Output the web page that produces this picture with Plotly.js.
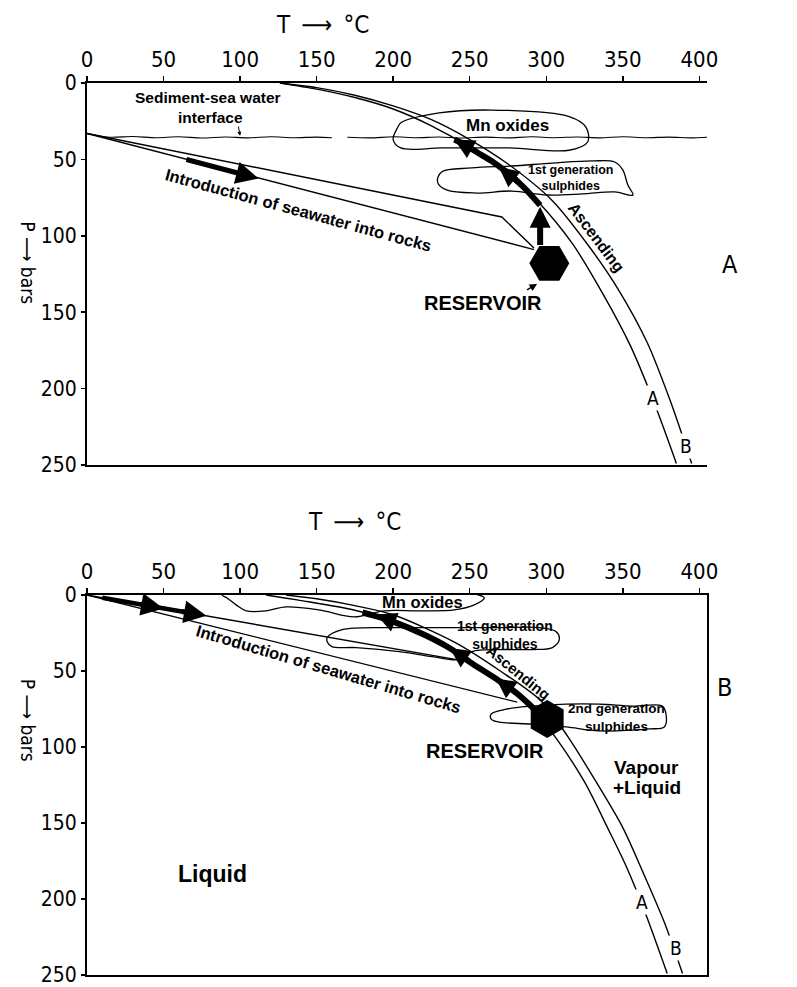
<!DOCTYPE html>
<html><head><meta charset="utf-8">
<script src="https://cdn.plot.ly/plotly-3.0.1.min.js"></script>
<style>html,body{margin:0;padding:0;background:#fff}</style>
</head><body>
<div id="chart" style="width:797px;height:987px"></div>
<script>
// ---------- tick labels ----------
const T_TICKS = [0, 50, 100, 150, 200, 250, 300, 350, 400];
const P_TICKS = [0, 50, 100, 150, 200, 250];

// ---------- panel A (top) ----------
const topCurveA_T = [126, 150, 175, 200, 225, 250, 275, 295, 317, 337, 355, 370, 385];
const topCurveA_P = [0, 4, 9.5, 17, 28, 42, 59, 78, 105, 138, 172, 208, 249];
const topCurveB_T = [126, 150, 175, 200, 225, 250, 275, 304, 328, 347, 366, 381, 395];
const topCurveB_P = [0, 3, 8, 15, 24, 37, 53, 77, 107, 135, 170, 208, 249];
const topInterface_T = [0, 15, 30, 45, 60, 75, 90, 105, 120, 135, 150, 160, 163, 170, 185, 200, 215, 230, 245, 260, 275, 290, 305, 320, 335, 350, 365, 380, 395, 405];
const topInterface_P = [33, 35.5, 35, 35.8, 35.2, 36, 35.3, 35.9, 35.2, 35.8, 35.4, 35.8, null, 35.5, 35.9, 35.2, 35.8, 35.3, 36, 35.4, 35.9, 35.2, 35.8, 35.3, 35.9, 35.2, 35.8, 35.4, 35.9, 35.5];
const topIntroUpper_T = [0, 205, 271, 292];
const topIntroUpper_P = [33, 74.6, 87.7, 108];
const topIntroLower_T = [0, 292];
const topIntroLower_P = [33, 109];
const topBand_T = [296, 285, 275, 265, 255, 247, 240];
const topBand_P = [80, 68, 59, 51.5, 45.5, 40.5, 37];
const topMn_T = [205, 230, 264, 315, 326, 327, 315, 276, 232, 205, 200, 203, 205];
const topMn_P = [26, 19.6, 17.7, 22, 29, 38.6, 44, 42.5, 42.5, 42.5, 37, 29, 26];
const topSulph1_T = [231.6, 251.3, 277.6, 304, 330, 344.7, 350, 353.3, 356.6, 344.7, 323.7, 300.7, 277.6, 254.6, 234.9, 229, 231.6];
const topSulph1_P = [58.2, 55.6, 54.3, 52.4, 51, 51.7, 56.9, 66.8, 73.3, 71.3, 72.6, 73.3, 70.7, 72, 70, 64.8, 58.2];
const topReservoir_T = [302];
const topReservoir_P = [118];

// ---------- panel B (bottom) ----------
const botCurveA_T = [117, 139, 175, 200, 237, 267, 289, 307, 325, 340, 352, 365, 379];
const botCurveA_P = [0, 3.5, 10, 17.5, 35, 55, 72, 95, 123, 153, 178, 210, 249];
const botCurveB_T = [130, 150, 175, 200, 240, 270, 297, 314, 332, 350, 363, 377, 389];
const botCurveB_P = [0, 2.5, 7, 13, 31, 50, 70, 93, 122, 153, 182, 215, 249];
const botIntroUpper_T = [0, 248];
const botIntroUpper_P = [0, 43.7];
const botIntroLower_T = [0, 281];
const botIntroLower_P = [0, 70.5];
const botIntroBand_T = [10, 74];
const botIntroBand_P = [1.8, 13];
const botBand_T = [293, 289, 280, 267, 250, 237, 220, 200, 189, 180];
const botBand_P = [76, 72, 64, 55, 44, 35, 26, 17.5, 14, 11.5];
const botMn_T = [88.2, 256, 259.5, 253, 240, 217, 194, 174.5, 151.6, 130, 117, 104, 97.4, 91.5, 88.2];
const botMn_P = [0, 0, 2, 6.5, 9.8, 10.4, 10.4, 14.4, 9.8, 7.8, 10.4, 10.4, 6.5, 2, 0];
const botSulph1_T = [156.9, 166.7, 203.9, 238.6, 269.3, 295.4, 306.5, 308.5, 304, 290.8, 269.3, 251.6, 243, 225.5, 204, 175.8, 160, 156.9, 156.9];
const botSulph1_P = [28.1, 22.8, 21.5, 21.5, 21.5, 21.5, 24.2, 29.4, 34.6, 35.9, 35.9, 37.2, 42.4, 40.5, 37.2, 34.6, 34, 30.7, 28.1];
const botSulph2_T = [264, 273.9, 290.8, 313, 334.6, 356.2, 375.8, 378.4, 377.1, 367.3, 334.6, 313, 290.8, 269.3, 264, 264];
const botSulph2_P = [78.3, 75.1, 73.1, 71.8, 71.8, 73.1, 73.1, 79.6, 86.8, 88.1, 89.4, 86.8, 84.9, 83.6, 81.6, 78.3];
const botReservoir_T = [300.6];
const botReservoir_P = [81.6];

// ---------- helpers ----------
const BOLD = 'Liberation Sans, Arial, sans-serif';
const NARROW = 'DejaVu Sans Condensed, Liberation Sans Narrow, sans-serif';
function line(T, P, xa, ya, w, smooth) {
  return {type: 'scatter', mode: 'lines', x: T, y: P, xaxis: xa, yaxis: ya,
    line: {color: '#000', width: w, shape: 'spline', smoothing: smooth === undefined ? 0.8 : smooth},
    hoverinfo: 'skip', connectgaps: false};
}
function blob(T, P, xa, ya) { return line(T, P, xa, ya, 1.3, 1); }
function straight(T, P, xa, ya, w) {
  return {type: 'scatter', mode: 'lines', x: T, y: P, xaxis: xa, yaxis: ya, line: {color: '#000', width: w}, hoverinfo: 'skip'};
}
function hexagon(T, P, xa, ya, size, sym) {
  return {type: 'scatter', mode: 'markers', x: T, y: P, xaxis: xa, yaxis: ya,
    marker: {symbol: sym, size: size, color: '#000', line: {width: 0}}, hoverinfo: 'skip'};
}

const traces = [
  // top
  line(topCurveA_T, topCurveA_P, 'x', 'y', 1.4),
  line(topCurveB_T, topCurveB_P, 'x', 'y', 1.4),
  line(topInterface_T, topInterface_P, 'x', 'y', 1.1),
  straight(topIntroUpper_T, topIntroUpper_P, 'x', 'y', 1.4),
  straight(topIntroLower_T, topIntroLower_P, 'x', 'y', 1.4),
  line(topBand_T, topBand_P, 'x', 'y', 6),
  blob(topMn_T, topMn_P, 'x', 'y'),
  blob(topSulph1_T, topSulph1_P, 'x', 'y'),
  hexagon(topReservoir_T, topReservoir_P, 'x', 'y', 40, 'hexagon2'),
  // bottom
  line(botCurveA_T, botCurveA_P, 'x2', 'y2', 1.4),
  line(botCurveB_T, botCurveB_P, 'x2', 'y2', 1.4),
  straight(botIntroUpper_T, botIntroUpper_P, 'x2', 'y2', 1.4),
  straight(botIntroLower_T, botIntroLower_P, 'x2', 'y2', 1.4),
  straight(botIntroBand_T, botIntroBand_P, 'x2', 'y2', 4.5),
  line(botBand_T, botBand_P, 'x2', 'y2', 6),
  blob(botMn_T, botMn_P, 'x2', 'y2'),
  blob(botSulph1_T, botSulph1_P, 'x2', 'y2'),
  blob(botSulph2_T, botSulph2_P, 'x2', 'y2'),
  hexagon(botReservoir_T, botReservoir_P, 'x2', 'y2', 38, 'hexagon')
];

function txt(T, P, s, size, xr, yr, extra) {
  return Object.assign({x: T, y: P, xref: xr, yref: yr, text: s, showarrow: false,
    font: {family: BOLD, size: size, color: '#000'}, xanchor: 'center', yanchor: 'middle'}, extra || {});
}
function arrow(T1, P1, T2, P2, xr, yr, w, size) {
  return {x: T2, y: P2, ax: T1, ay: P1, xref: xr, yref: yr, axref: xr, ayref: yr, text: '',
    showarrow: true, arrowhead: 2, arrowwidth: w, arrowsize: size, arrowcolor: '#000'};
}
const LAB = {bgcolor: '#fff', font: {family: NARROW, size: 19, color: '#000'}};

const annotations = [
  // top panel texts
  txt(79, 9.8, '<b>Sediment-sea water</b>', 15.5, 'x', 'y'),
  txt(80.6, 22.3, '<b>interface</b>', 15.5, 'x', 'y'),
  txt(275, 27.5, '<b>Mn oxides</b>', 17, 'x', 'y'),
  txt(316, 62, '<b>1st generation<br>sulphides</b>', 12.5, 'x', 'y'),
  txt(332.6, 101.4, '<b>Ascending</b>', 16, 'x', 'y', {textangle: 53}),
  txt(138, 83, '<b>Introduction of seawater into rocks</b>', 16.5, 'x', 'y', {textangle: 15.2}),
  txt(259, 144, '<b>RESERVOIR</b>', 20, 'x', 'y'),
  txt(369.4, 206, 'A', 19, 'x', 'y', LAB),
  txt(391, 237.5, 'B', 19, 'x', 'y', LAB),
  // top arrows
  arrow(64, 49.8, 112, 62.5, 'x', 'y', 5, 0.9),
  arrow(256, 46, 240, 37, 'x', 'y', 5, 0.8),
  arrow(283, 66, 269, 55, 'x', 'y', 5, 0.8),
  arrow(296, 107, 296, 81, 'x', 'y', 6, 0.7),
  arrow(286.5, 136, 294, 131.5, 'x', 'y', 1.5, 1),
  arrow(98.7, 27.5, 100, 34.5, 'x', 'y', 1, 0.8),
  // bottom panel texts
  txt(219, 4.6, '<b>Mn oxides</b>', 16.5, 'x2', 'y2'),
  txt(273, 26.5, '<b>1st generation<br>sulphides</b>', 14, 'x2', 'y2'),
  txt(282, 51, '<b>Ascending</b>', 15, 'x2', 'y2', {textangle: 39}),
  txt(158, 49, '<b>Introduction of seawater into rocks</b>', 16.5, 'x2', 'y2', {textangle: 16.4}),
  txt(346, 80.6, '<b>2nd generation<br>sulphides</b>', 13.5, 'x2', 'y2'),
  txt(260, 102.5, '<b>RESERVOIR</b>', 20, 'x2', 'y2'),
  txt(365.7, 113.6, '<b>Vapour</b>', 19, 'x2', 'y2'),
  txt(366, 126.6, '<b>+Liquid</b>', 19, 'x2', 'y2'),
  txt(82, 183.4, '<b>Liquid</b>', 23, 'x2', 'y2'),
  txt(362.4, 202, 'A', 19, 'x2', 'y2', LAB),
  txt(384.6, 232, 'B', 19, 'x2', 'y2', LAB),
  // bottom arrows
  arrow(34, 5.9, 50, 8.8, 'x2', 'y2', 5, 0.9),
  arrow(61, 10.7, 78, 13.7, 'x2', 'y2', 5, 0.9),
  arrow(205, 19.5, 189, 12.8, 'x2', 'y2', 5, 0.8),
  arrow(251, 44.5, 237, 34.8, 'x2', 'y2', 5, 0.8),
  arrow(281, 65, 267, 54.8, 'x2', 'y2', 5, 0.8),
  // axis titles
  txt(154, 1.065, 'T \u2009\u27F6\u2009 \u00B0C', 24, 'x', 'paper', {font: {family: NARROW, size: 24, color: '#000'}}),
  txt(175, 0.508, 'T \u2009\u27F6\u2009 \u00B0C', 24, 'x2', 'paper', {font: {family: NARROW, size: 24, color: '#000'}}),
  txt(-0.095, 0.799, 'P \u27F6 bars', 19, 'paper', 'paper', {textangle: 90, font: {family: NARROW, size: 19, color: '#000'}}),
  txt(-0.095, 0.286, 'P \u27F6 bars', 19, 'paper', 'paper', {textangle: 90, font: {family: NARROW, size: 19, color: '#000'}}),
  txt(1.037, 0.796, 'A', 24, 'paper', 'paper', {font: {family: NARROW, size: 25, color: '#000'}}),
  txt(1.029, 0.322, 'B', 24, 'paper', 'paper', {font: {family: NARROW, size: 25, color: '#000'}})
];

const axX = {range: [0, 405], side: 'top', tickvals: T_TICKS, ticktext: T_TICKS.map(String),
  showline: true, linecolor: '#000', linewidth: 2, mirror: true, ticks: 'outside', ticklen: 5, tickwidth: 1.5,
  tickcolor: '#000', showgrid: false, zeroline: false, ticklabeloverflow: 'allow',
  tickfont: {family: NARROW, size: 22, color: '#000'}, fixedrange: true};
const axY = {range: [250, 0], tickvals: P_TICKS, ticktext: P_TICKS.map(String),
  showline: true, linecolor: '#000', linewidth: 2, ticks: 'outside', ticklen: 4, tickwidth: 1.5,
  tickcolor: '#000', showgrid: false, zeroline: false, ticklabeloverflow: 'allow',
  tickfont: {family: NARROW, size: 21, color: '#000'}, fixedrange: true};

const layout = {
  width: 797, height: 987,
  margin: {l: 87, r: 90, t: 83, b: 12},
  paper_bgcolor: '#fff', plot_bgcolor: '#fff',
  showlegend: false,
  xaxis: Object.assign({}, axX, {anchor: 'y', domain: [0, 1]}),
  yaxis: Object.assign({}, axY, {anchor: 'x', domain: [0.5717, 1], mirror: false}),
  xaxis2: Object.assign({}, axX, {anchor: 'y2', domain: [0, 1]}),
  yaxis2: Object.assign({}, axY, {anchor: 'x2', domain: [0, 0.426], mirror: true}),
  annotations: annotations
};

Plotly.newPlot('chart', traces, layout, {staticPlot: true, displayModeBar: false});
</script>
</body></html>
